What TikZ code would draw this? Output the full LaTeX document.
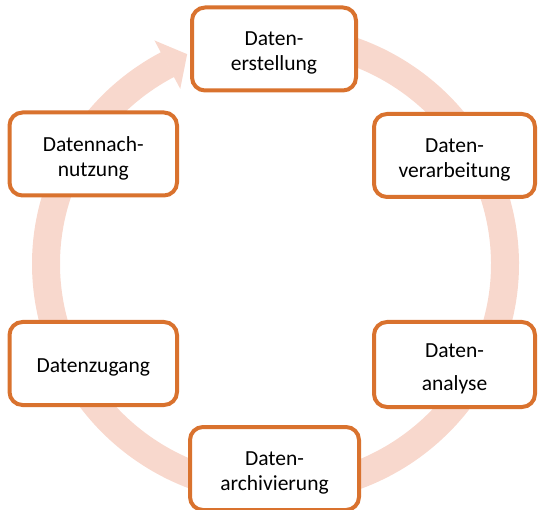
\documentclass[tikz,border=0pt]{standalone}
\usepackage{fontspec}
\setmainfont{Carlito}
\usetikzlibrary{calc}
\definecolor{ringc}{RGB}{248,216,205}
\definecolor{boxc}{RGB}{217,114,46}
\begin{document}
\begin{tikzpicture}[x=1pt,y=1pt,
  stepbox/.style={draw=boxc, line width=4pt, fill=white, rounded corners=13pt, minimum height=83pt, inner sep=0pt},
  lbl/.style={font=\fontsize{21.5}{25}\selectfont, align=center, inner sep=0pt, yshift=-4pt},
  ring/.style={draw=ringc, line width=28pt}]
\useasboundingbox (0,0) rectangle (538,509);
\coordinate (c) at (275.5,245);
\draw[ring] (c) ++(95:229.5 and 226) arc[start angle=95, end angle=-242, x radius=229.5, y radius=226] coordinate (aend);
\fill[ringc] ($(aend)+(-12.9,24.2)+(-0.4,-0.2)$) -- ($(aend)+(19.4,10.3)$) -- ($(aend)+(12.9,-24.2)+(-0.4,-0.2)$) -- cycle;

\node[stepbox, minimum width=164pt] (erst) at (274,460) {};
\node[lbl] (terst) at (erst) {Daten-\\erstellung};

\node[stepbox, minimum width=161pt] (verarb) at (454.5,353.5) {};
\node[lbl] (tverarb) at (verarb) {Daten-\\verarbeitung};

\node[stepbox, minimum width=161pt, minimum height=85pt] (analyse) at (454.5,144.5) {};
\node[lbl] (tanalyse) at (analyse) {Daten-\\[8pt]analyse};

\node[stepbox, minimum width=169pt] (archiv) at (274.5,40.5) {};
\node[lbl] (tarchiv) at (archiv) {Daten-\\archivierung};

\node[stepbox, minimum width=167.5pt] (zugang) at (93.25,145.5) {};
\node[lbl] (tzugang) at (zugang) {Datenzugang};

\node[stepbox, minimum width=167.5pt] (nach) at (93.25,355) {};
\node[lbl] (tnach) at (nach) {Datennach-\\nutzung};
\end{tikzpicture}
\end{document}
